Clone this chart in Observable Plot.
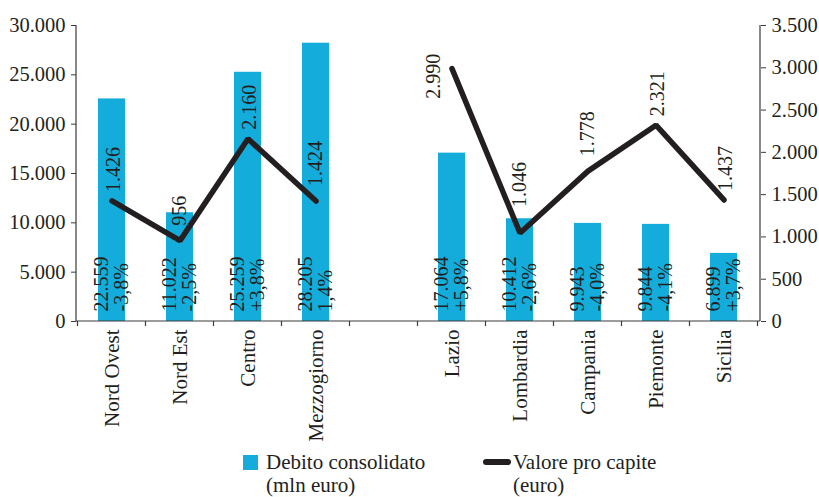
<!DOCTYPE html>
<html><head><meta charset="utf-8">
<script src="https://cdn.jsdelivr.net/npm/d3@7"></script>
<script src="https://cdn.jsdelivr.net/npm/@observablehq/plot@0.6"></script>
<style>
body{margin:0;background:#fff;font-family:"Liberation Serif",serif;color:#231f20;}
#wrap{position:relative;width:819px;height:497px;overflow:hidden;}
#wrap svg{display:block;}
.leg{position:absolute;font-size:21px;line-height:23px;white-space:nowrap;}
.sq{position:absolute;width:15px;height:15px;background:#13acdb;}
.ln{position:absolute;width:28px;height:6px;border-radius:3px;background:#231f20;}
</style></head><body><div id="wrap"></div>
<script>
const GAP = "__gap__";
const categories = ["Nord Ovest","Nord Est","Centro","Mezzogiorno",GAP,"Lazio","Lombardia","Campania","Piemonte","Sicilia"];
const debito = [22559, 11022, 25259, 28205, null, 17064, 10412, 9943, 9844, 6899];
const variazione = ["-3,8%","-2,5%","+3,8%","1,4%",null,"+5,8%","-2,6%","-4,0%","-4,1%","+3,7%"];
const proCapite = [1426, 956, 2160, 1424, null, 2990, 1046, 1778, 2321, 1437];
const leftTicks = [0,5000,10000,15000,20000,25000,30000];
const rightTicks = [0,500,1000,1500,2000,2500,3000,3500];

const fmt = d3.formatLocale({decimal:",", thousands:".", grouping:[3], currency:["","€"]}).format(",");
const K = 30000/3500;
const rows = categories.map((c,i)=>({cat:c, debito:debito[i], variazione:variazione[i], pc:proCapite[i]}));
const bars = rows.filter(d=>d.debito!=null);
const pts = rows.filter(d=>d.pc!=null);
const BLUE = "#13acdb", INK = "#231f20", AX = "#3a3a3a";
const lowLabels = ["Nord Est","Mezzogiorno","Campania"];
const farLabels = ["Lombardia"];
const leftLabels = ["Lazio"];

const frameLines = (index, scales, values, dim) => {
  const x = scales.x;
  const bw = x.bandwidth ? x.bandwidth() : 0;
  const c0 = x(categories[0]) + bw/2, c1 = x(categories[1]) + bw/2;
  const step = c1 - c0;
  const y0 = dim.height - dim.marginBottom, top = dim.marginTop;
  const l = dim.marginLeft, r = dim.width - dim.marginRight;
  const g = d3.create("svg:g").attr("stroke", AX).attr("fill","none").attr("stroke-width",1.2);
  g.append("line").attr("x1",l).attr("x2",l).attr("y1",top).attr("y2",y0);
  g.append("line").attr("x1",r).attr("x2",r).attr("y1",top).attr("y2",y0);
  g.append("line").attr("x1",l).attr("x2",r).attr("y1",y0).attr("y2",y0);
  for (let i = 0; i <= categories.length; i++) {
    const xb = c0 - step/2 + i*step;
    g.append("line").attr("x1",xb).attr("x2",xb).attr("y1",y0).attr("y2",y0+5);
  }
  return g.node();
};

const chart = Plot.plot({
  width: 819, height: 445,
  marginLeft: 76, marginRight: 59, marginTop: 25, marginBottom: 124,
  style: {fontFamily: "Liberation Serif", fontSize: "20px", color: INK, background: "#fff"},
  x: {type: "band", domain: categories, paddingInner: 0.6, paddingOuter: 0.3, axis: null, label: null},
  y: {domain: [0, 30000], axis: null, label: null},
  marks: [
    Plot.barY(bars, {x: "cat", y: "debito", fill: BLUE}),
    frameLines,
    Plot.axisY(leftTicks, {anchor: "left", label: null, tickSize: 5, tickPadding: 6, tickFormat: fmt, fontSize: 20.5, stroke: AX, fill: INK}),
    Plot.axisY(rightTicks.map(v=>v*K), {anchor: "right", label: null, tickSize: 5, tickPadding: 6, tickFormat: d=>fmt(Math.round(d/K)), fontSize: 20.5, stroke: AX, fill: INK}),
    Plot.axisX({anchor: "bottom", label: null, tickRotate: -90, tickSize: 0, tickPadding: 8, fontSize: 21, fill: INK, tickFormat: d => d === GAP ? "" : d}),
    Plot.text(bars, {x: "cat", y: 0, text: d => fmt(d.debito) + "\n" + d.variazione, rotate: -90, textAnchor: "start", lineAnchor: "middle", lineHeight: 1, dy: -10, fontSize: 20, fill: INK}),
    Plot.lineY(rows, {x: "cat", y: d => d.pc == null ? NaN : d.pc*K, stroke: INK, strokeWidth: 5.5, strokeLinecap: "round", strokeLinejoin: "miter"}),
    Plot.text(pts.filter(d=>!lowLabels.includes(d.cat) && !farLabels.includes(d.cat) && !leftLabels.includes(d.cat)), {x: "cat", y: d => d.pc*K, text: d => fmt(d.pc), rotate: -90, textAnchor: "start", dy: -9, dx: 2, fontSize: 20, fill: INK}),
    Plot.text(pts.filter(d=>lowLabels.includes(d.cat)), {x: "cat", y: d => d.pc*K, text: d => fmt(d.pc), rotate: -90, textAnchor: "start", dy: -15, fontSize: 20, fill: INK}),
    Plot.text(pts.filter(d=>farLabels.includes(d.cat)), {x: "cat", y: d => d.pc*K, text: d => fmt(d.pc), rotate: -90, textAnchor: "start", dy: -26, fontSize: 20, fill: INK}),
    Plot.text(pts.filter(d=>leftLabels.includes(d.cat)), {x: "cat", y: d => d.pc*K, text: d => fmt(d.pc), rotate: -90, textAnchor: "start", dy: 30, dx: -18, fontSize: 20, fill: INK})
  ]
});
const wrap = document.getElementById("wrap");
wrap.appendChild(chart);
const leg = [
  `<div class="sq" style="left:243px;top:455px"></div>`,
  `<div class="leg" style="left:266px;top:451px">Debito consolidato<br>(mln euro)</div>`,
  `<div class="ln" style="left:483px;top:459px"></div>`,
  `<div class="leg" style="left:513px;top:451px">Valore pro capite<br>(euro)</div>`
].join("");
wrap.insertAdjacentHTML("beforeend", leg);
</script></body></html>
